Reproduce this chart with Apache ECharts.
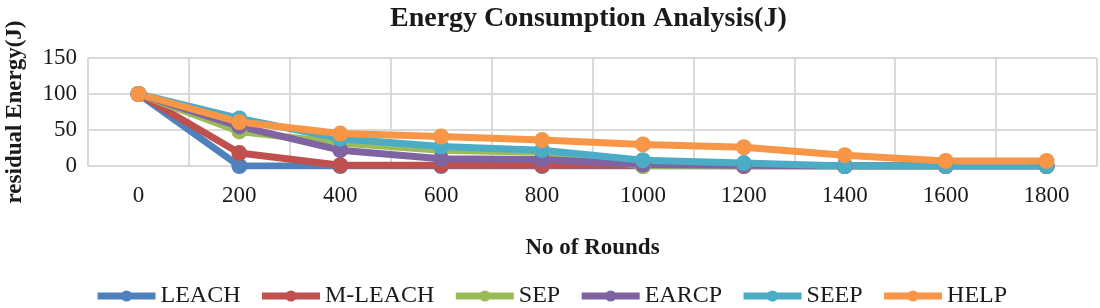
<!DOCTYPE html>
<html>
<head>
<meta charset="utf-8">
<script src="https://cdn.jsdelivr.net/npm/echarts@6/dist/echarts.min.js"></script>
<style>
	html, body { margin: 0; padding: 0; background: #fff; }
	#energyChart { width: 1100px; height: 308px; }
</style>
</head>
<body>
<div id="energyChart"></div>
<script>
var rounds = ['0', '200', '400', '600', '800', '1000', '1200', '1400', '1600', '1800']
var leachData = [100, 0, 0, 0, 0, 0, 0, 0, 0, 0]
var mleachData = [100, 18, 1, 1, 1, 1, 0, 0, 0, 0]
var sepData = [100, 48, 32, 22, 19, 0, 1, 0, 0, 0]
var earcpData = [100, 55, 22, 10, 9, 2, 1, 0, 0, 0]
var seepData = [100, 66, 38, 27, 22, 8, 4, 0, 0, 0]
var helpData = [100, 61, 45, 41, 36, 30, 26, 15, 7, 7]

var seriesNames = ['LEACH', 'M-LEACH', 'SEP', 'EARCP', 'SEEP', 'HELP']
var seriesColors = ['#4F81BD', '#C0504D', '#9BBB59', '#8064A2', '#4BACC6', '#F79646']

function buildLineSeries(name, values, color) {
	return {
		name: name,
		type: 'line',
		data: values,
		symbol: 'circle',
		symbolSize: 16,
		lineStyle: { width: 7, color: color },
		itemStyle: { color: color },
		emphasis: { disabled: true },
	}
}

function drawEnergyChart(chartDom) {
	var myChart = echarts.init(chartDom)
	var serifFont = '"Liberation Serif", "DejaVu Serif", serif'
	var allData = [leachData, mleachData, sepData, earcpData, seepData, helpData]
	var seriesList = []
	for (var i = 0; i < seriesNames.length; i++) {
		seriesList.push(buildLineSeries(seriesNames[i], allData[i], seriesColors[i]))
	}

	var option = {
		animation: false,
		title: {
			text: 'Energy Consumption Analysis(J)',
			left: 385,
			top: 0,
			textStyle: {
				fontFamily: serifFont,
				fontWeight: 'bold',
				fontSize: 28,
				color: '#1a1a1a',
			},
		},
		legend: {
			bottom: -5,
			left: 89,
			itemWidth: 58,
			itemHeight: 14,
			itemGap: 18,
			lineStyle: { width: 7 },
			textStyle: { fontFamily: serifFont, fontSize: 24, color: '#1a1a1a' },
			data: seriesNames,
		},
		grid: {
			left: 88,
			right: 3,
			top: 58,
			bottom: 142,
			containLabel: false,
			outerBoundsMode: 'none',
		},
		xAxis: {
			type: 'category',
			data: rounds,
			boundaryGap: true,
			name: 'No of Rounds',
			nameLocation: 'middle',
			nameGap: 71,
			nameTextStyle: { fontFamily: serifFont, fontWeight: 'bold', fontSize: 23, color: '#1a1a1a' },
			axisLine: { show: true, lineStyle: { color: '#d9d9d9', width: 2 } },
			axisTick: { show: false },
			axisLabel: { fontFamily: serifFont, fontSize: 23, color: '#1a1a1a', margin: 18 },
			splitLine: { show: true, lineStyle: { color: '#d9d9d9', width: 2 } },
		},
		yAxis: {
			type: 'value',
			min: 0,
			max: 150,
			interval: 50,
			name: 'residual Energy(J)',
			nameLocation: 'middle',
			nameGap: 61,
			nameTextStyle: { fontFamily: serifFont, fontWeight: 'bold', fontSize: 23, color: '#1a1a1a' },
			axisLine: { show: false },
			axisTick: { show: false },
			axisLabel: { fontFamily: serifFont, fontSize: 23, color: '#1a1a1a', margin: 11 },
			splitLine: { show: true, lineStyle: { color: '#d9d9d9', width: 2 } },
		},
		series: seriesList,
	}

	option && myChart.setOption(option)
}

drawEnergyChart(document.getElementById('energyChart'))
</script>
</body>
</html>
